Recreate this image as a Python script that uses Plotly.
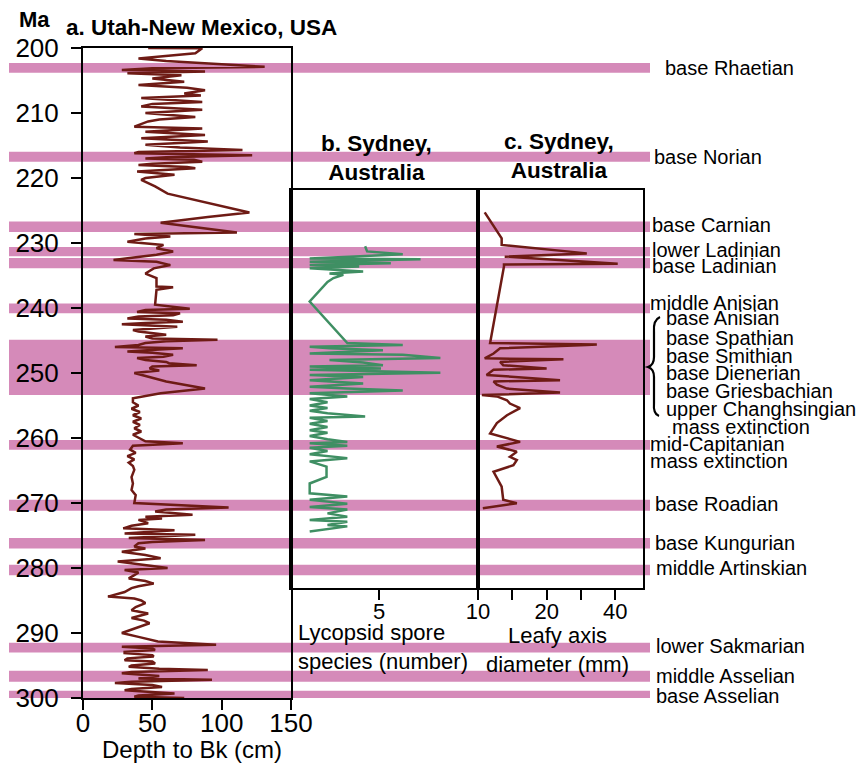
import plotly.graph_objects as go

# ---------------- data ----------------
# a. Utah-New Mexico: age (Ma) and depth to Bk (cm)
utah_age = [200.0, 200.05, 200.8, 201.6, 202.0, 202.4, 202.9, 203.1, 203.4, 203.6, 203.9, 204.2, 204.7,
            205.2, 205.4, 205.7, 206.1, 206.5, 207.0, 207.3, 207.7, 208.3, 208.6, 209.0, 209.5, 210.0,
            210.6, 211.0, 211.3, 212.1, 212.4, 212.9, 213.4, 213.9, 214.4, 214.9, 215.3, 215.7, 216.0,
            216.2, 216.5, 216.8, 217.0, 217.2, 217.5, 217.8, 218.0, 218.3, 218.5, 219.0, 219.5, 220.0,
            220.3, 221.3, 222.4, 223.4, 224.4, 225.3, 226.0, 226.9, 228.4, 228.6, 229.0, 229.3, 229.8,
            230.3, 230.8, 231.3, 231.8, 232.6, 232.9, 233.4, 233.9, 234.7, 235.4, 236.7, 236.8, 237.2,
            239.5, 240.1, 240.3, 240.6, 240.8, 241.1, 241.3, 241.6, 241.8, 242.1, 242.3, 242.5, 242.9,
            243.1, 243.4, 243.6, 243.9, 244.1, 244.4, 244.7, 244.9, 245.1, 245.4, 245.7, 246.0, 246.2,
            246.4, 246.7, 246.9, 247.2, 247.5, 247.7, 248.0, 248.3, 248.5, 248.8, 249.0, 249.3, 249.6,
            250.0, 251.3, 252.4, 253.1, 253.9, 254.5, 255.0, 255.5, 256.0, 256.5, 257.0, 257.5, 258.0,
            258.5, 259.0, 259.5, 260.0, 260.5, 260.8, 261.2, 261.8, 262.3, 262.8, 263.3, 263.8, 264.3,
            264.9, 266.0, 267.0, 268.0, 268.8, 270.0, 270.7, 271.0, 271.3, 271.8, 272.1, 272.4, 272.6,
            273.1, 273.5, 273.9, 274.2, 274.5, 274.7, 274.9, 275.2, 275.4, 275.7, 276.0, 276.2, 276.7,
            277.0, 277.5, 278.0, 278.5, 279.0, 279.5, 280.0, 280.3, 280.7, 281.1, 281.6, 282.0, 282.4,
            282.8, 283.1, 283.7, 284.4, 284.7, 285.0, 285.4, 286.0, 286.5, 287.0, 287.7, 288.1, 288.5,
            289.3, 290.0, 290.6, 291.3, 291.8, 292.0, 292.1, 292.4, 292.6, 292.9, 293.1, 293.4, 293.6,
            293.9, 294.2, 294.4, 294.7, 295.0, 295.2, 295.5, 295.7, 296.0, 296.2, 296.6, 297.0, 297.2,
            297.5, 297.7, 298.0, 298.3, 298.6, 298.8, 299.1, 299.3, 299.6, 299.8, 300.0]
utah_depth = [47, 86, 81, 40, 60, 88, 131, 50, 28, 88, 32, 71, 50,
              73, 59, 40, 75, 88, 73, 85, 42, 86, 50, 42, 86, 45,
              81, 55, 47, 37, 86, 45, 88, 42, 90, 45, 70, 115, 40,
              37, 122, 60, 45, 80, 86, 50, 40, 75, 81, 39, 66, 45,
              42, 52, 61, 81, 100, 120, 90, 56, 111, 37, 63, 45, 32,
              58, 53, 65, 53, 22, 53, 63, 51, 45, 53, 53, 65, 53,
              52, 77, 45, 39, 70, 65, 40, 32, 60, 72, 45, 28, 68,
              55, 36, 40, 53, 60, 45, 50, 97, 60, 45, 40, 23, 72,
              55, 32, 50, 65, 58, 39, 45, 60, 62, 82, 50, 48, 55,
              37, 60, 88, 56, 36, 36, 40, 35, 41, 36, 42, 36, 41,
              37, 42, 36, 40, 45, 72, 36, 34, 38, 32, 37, 33, 36,
              37, 35, 36, 35, 38, 37, 105, 60, 52, 79, 45, 57, 40,
              47, 35, 29, 66, 40, 30, 81, 45, 33, 88, 50, 40, 37,
              45, 28, 45, 56, 25, 42, 61, 30, 40, 37, 33, 45, 51,
              40, 35, 30, 18, 37, 42, 45, 38, 35, 47, 35, 44, 48,
              37, 28, 40, 54, 96, 40, 28, 50, 52, 30, 30, 50, 51,
              32, 30, 50, 52, 35, 33, 55, 90, 35, 28, 55, 40, 93,
              35, 23, 50, 57, 35, 30, 55, 66, 40, 37, 73]

# b. Sydney: lycopsid spore species (number)
spore_age = [230.5, 231.3, 231.75, 232.4, 232.5, 232.9, 233.1, 233.4, 233.6, 233.9, 234.4, 234.7, 234.9,
             235.4, 236.0, 239.0, 245.4, 245.7, 245.95, 246.2, 246.5, 246.8, 247.0, 247.2, 247.7, 248.0,
             248.4, 248.8, 249.0, 249.3, 249.5, 249.95, 250.3, 250.6, 250.9, 251.1, 251.6, 252.1, 252.4,
             252.7, 253.1, 253.6, 254.0, 254.5, 255.0, 255.4, 255.8, 256.2, 256.7, 256.9, 257.4, 257.8,
             258.3, 258.8, 259.2, 259.7, 260.2, 260.6, 260.8, 261.2, 261.5, 262.0, 262.5, 263.1, 263.6,
             264.4, 266.0, 267.0, 268.5, 269.0, 269.5, 270.1, 270.6, 271.0, 271.6, 272.1, 272.6, 272.9,
             273.4, 273.6, 274.4]
spore_count = [4.3, 4.4, 6.2, 1.5, 7.1, 1.5, 5.6, 1.5, 4.0, 1.5, 4.2, 2.5, 3.2,
               2.7, 2.4, 1.5, 3.4, 6.2, 1.5, 2.5, 5.2, 2.4, 1.5, 6.2, 8.1, 2.5,
               4.2, 5.2, 1.5, 5.1, 1.5, 8.1, 1.5, 4.2, 2.4, 1.5, 4.2, 1.5, 3.4,
               6.2, 1.5, 3.4, 1.5, 2.4, 1.5, 2.4, 1.5, 2.4, 4.3, 1.5, 2.4, 1.5,
               2.4, 1.5, 2.4, 1.5, 2.4, 3.4, 1.5, 3.4, 1.5, 2.4, 1.5, 3.4, 1.5,
               2.35, 2.35, 1.5, 1.5, 3.4, 1.5, 3.4, 1.5, 3.4, 2.4, 3.4, 1.5, 3.4,
               2.4, 3.4, 1.5]

# c. Sydney: leafy axis diameter (mm)
leafy_age = [225.3, 229.3, 230.3, 231.6, 232.1, 233.2, 233.3, 233.6, 245.4, 245.6, 245.7, 246.2,
             247.0, 247.75, 247.9, 248.3, 248.8, 249.3, 249.5, 250.3, 251.1, 251.3, 251.8, 252.4,
             253.0, 253.4, 253.6, 254.2, 254.7, 255.4, 256.5, 257.7, 259.3, 260.6, 261.3, 262.1,
             262.9, 263.4, 264.2, 265.2, 267.5, 269.5, 270.05, 270.6, 270.8]
leafy_diam = [10.7, 12.7, 12.7, 30, 13.1, 41, 13.0, 13.0, 11.3, 33.2, 30, 12.5,
              11.7, 10.7, 23.7, 12.5, 12.9, 20, 11.7, 10.9, 22.9, 11.7, 12.1, 13.4,
              22.9, 10.4, 12.1, 13.4, 13.8, 15.3, 13.4, 12.1, 11.3, 15.3, 12.1, 14.8,
              13.8, 14.8, 14.3, 11.7, 12.7, 12.9, 14.8, 11.7, 10.5]

# event bands (Ma) and labels
band_start = [202.3, 215.95, 226.7, 230.6, 232.3, 239.3, 244.9, 260.3, 269.5, 275.4, 279.5, 291.5, 295.8, 298.9]
band_end = [203.8, 217.5, 228.3, 232.05, 233.9, 240.8, 253.4, 261.8, 271.2, 277.0, 281.1, 293.0, 297.5, 300.4]

event_labels = ["base Rhaetian", "base Norian", "base Carnian", "lower Ladinian", "base Ladinian",
                "middle Anisian", "base Anisian", "base Spathian", "base Smithian", "base Dienerian",
                "base Griesbachian", "upper Changhsingian", "mass extinction", "mid-Capitanian",
                "mass extinction", "base Roadian", "base Kungurian", "middle Artinskian",
                "lower Sakmarian", "middle Asselian", "base Asselian"]

age_ticks = [200, 210, 220, 230, 240, 250, 260, 270, 280, 290, 300]
depth_ticks = [0, 50, 100, 150]

# ---------------- layout helpers ----------------
W, H = 860, 767
def X(px):
    return px / W
def Y(py):
    return 1 - py / H

DARK = "#6E1B15"
GREEN = "#3F8F63"
PINK = "#D58AB9"
FONT = "Liberation Sans, Arial, sans-serif"

fig = go.Figure()
fig.add_trace(go.Scatter(x=utah_depth, y=utah_age, mode="lines", xaxis="x", yaxis="y",
                         line=dict(color=DARK, width=2.5)))
fig.add_trace(go.Scatter(x=spore_count, y=spore_age, mode="lines", xaxis="x2", yaxis="y2",
                         line=dict(color=GREEN, width=2.5)))
fig.add_trace(go.Scatter(x=leafy_diam, y=leafy_age, mode="lines", xaxis="x3", yaxis="y3",
                         line=dict(color=DARK, width=2.5)))

shapes = []
for s, e in zip(band_start, band_end):
    shapes.append(dict(type="rect", xref="paper", yref="y", x0=X(9), x1=X(650), y0=s, y1=e,
                       fillcolor=PINK, line=dict(width=0), layer="below"))

# curly brace
bp = [(660, 317), (653, 320), (654, 332), (654, 357), (654, 365), (648, 367),
      (654, 369), (654, 377), (654, 403), (653, 414), (659, 416)]
path = (f"M {X(bp[0][0])},{Y(bp[0][1])} Q {X(bp[1][0])},{Y(bp[1][1])} {X(bp[2][0])},{Y(bp[2][1])} "
        f"L {X(bp[3][0])},{Y(bp[3][1])} Q {X(bp[4][0])},{Y(bp[4][1])} {X(bp[5][0])},{Y(bp[5][1])} "
        f"Q {X(bp[6][0])},{Y(bp[6][1])} {X(bp[7][0])},{Y(bp[7][1])} "
        f"L {X(bp[8][0])},{Y(bp[8][1])} Q {X(bp[9][0])},{Y(bp[9][1])} {X(bp[10][0])},{Y(bp[10][1])}")
shapes.append(dict(type="path", xref="paper", yref="paper", path=path,
                   line=dict(color="black", width=2.2)))

annotations = []
label_pos = [(663, 68), (652, 157), (650, 225), (650, 250), (650, 266), (648, 303), (664, 318),
             (664, 338), (664, 356), (664, 373), (664, 391), (664, 409), (670, 427), (648, 444),
             (648, 461), (653, 504), (653, 543), (654, 568), (654, 646), (654, 676), (654, 696)]
for t, (lx, ly) in zip(event_labels, label_pos):
    annotations.append(dict(text=t, x=X(lx), y=Y(ly), xref="paper", yref="paper", xanchor="left",
                            yanchor="middle", showarrow=False, font=dict(size=20, color="black", family=FONT)))

def ann(text, x, y, size, bold=False, xanchor="center", align="center"):
    annotations.append(dict(text=f"<b>{text}</b>" if bold else text, x=X(x), y=Y(y), xref="paper",
                            yref="paper", xanchor=xanchor, yanchor="middle", align=align, showarrow=False,
                            font=dict(size=size, color="black", family=FONT)))

ann("Ma", 34, 19, 22, bold=True)
ann("a. Utah-New Mexico, USA", 64, 28, 22.5, bold=True, xanchor="left")
ann("b. Sydney,<br>Australia", 376, 158, 22.5, bold=True)
ann("c. Sydney,<br>Australia", 559, 156, 22.5, bold=True)
ann("Depth to Bk (cm)", 192, 749, 24)
ann("Lycopsid spore<br>species (number)", 296, 647, 22, xanchor="left", align="left")
ann("Leafy axis<br>diameter (mm)", 557, 650, 22)

axis_common = dict(showline=True, linecolor="black", linewidth=2, mirror=True, showgrid=False,
                   zeroline=False, tickcolor="black", tickwidth=2, ticklen=10, automargin=False)

fig.update_layout(
    width=W, height=H, autosize=False, margin=dict(l=0, r=0, t=0, b=0, pad=0),
    paper_bgcolor="white", plot_bgcolor="rgba(0,0,0,0)", showlegend=False,
    font=dict(family=FONT, color="black"),
    xaxis=dict(domain=[X(83), X(291)], range=[0, 150], tickvals=depth_ticks, ticks="outside",
               anchor="y", tickfont=dict(size=26), ticklabelstandoff=-9, **axis_common),
    yaxis=dict(domain=[Y(698), Y(48)], range=[300, 200], tickvals=age_ticks, ticks="outside",
               anchor="x", tickfont=dict(size=26), ticklabelstandoff=7, **axis_common),
    xaxis2=dict(domain=[X(291), X(478)], range=[0.556, 10], tickvals=[5, 10], ticktext=["5", ""],
                ticks="outside", anchor="y2", tickfont=dict(size=22), ticklabelstandoff=-7, **axis_common),
    yaxis2=dict(domain=[Y(588), Y(190)], range=[283.08, 221.85], showticklabels=False, ticks="",
                anchor="x2", **axis_common),
    xaxis3=dict(domain=[X(478), X(643)], type="log", range=[1, 1.7237],
                tickvals=[10, 14.14, 20, 28.28, 40], ticktext=["10", "", "20", "", "40"],
                ticks="outside", anchor="y3", tickfont=dict(size=22), ticklabelstandoff=-7, **axis_common),
    yaxis3=dict(domain=[Y(588), Y(190)], matches="y2", showticklabels=False, ticks="",
                anchor="x3", **axis_common),
    shapes=shapes, annotations=annotations,
)

fig.write_html("out.html")
